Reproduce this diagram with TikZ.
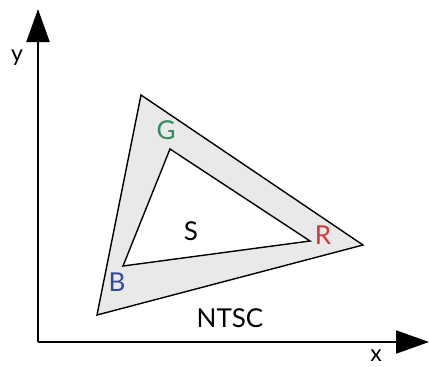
\documentclass[tikz,border=0pt]{standalone}
\usepackage{fontspec}
\setmainfont{Lato}
\usetikzlibrary{arrows.meta}
\definecolor{gfill}{RGB}{233,233,233}
\definecolor{gcol}{RGB}{46,140,90}
\definecolor{rcol}{RGB}{214,52,56}
\definecolor{bcol}{RGB}{52,72,160}
\tikzset{
  axis/.style={line width=2pt,-{Triangle[length=33pt,width=23pt]}},
  tri/.style={line width=1.4pt,line join=miter},
  lbl/.style={inner sep=0pt,font=\fontsize{26}{30}\selectfont},
  axlbl/.style={inner sep=0pt,font=\fontsize{23}{27}\selectfont}
}
\begin{document}
\begin{tikzpicture}[x=1pt,y=-1pt]
\useasboundingbox (0,0) rectangle (429,367);
\coordinate (O) at (38,342);
\coordinate (Y) at (38,9);
\coordinate (X) at (429,342);
\coordinate (o1) at (141,95);
\coordinate (o2) at (363,245);
\coordinate (o3) at (97,315);
\coordinate (i1) at (170,149);
\coordinate (i2) at (310,241);
\coordinate (i3) at (123,266);
\fill[gfill,even odd rule] (o1) -- (o2) -- (o3) -- cycle (i1) -- (i2) -- (i3) -- cycle;
\draw[tri] (o1) -- (o2) -- (o3) -- cycle;
\draw[tri] (i1) -- (i2) -- (i3) -- cycle;
\draw[axis] (O) -- (Y);
\draw[axis] (O) -- (X);
\node[axlbl] (ylbl) at (17,58) {y};
\node[axlbl] (xlbl) at (376,356) {x};
\node[lbl,text=gcol] (G) at (166,130) {G};
\node[lbl,text=rcol] (R) at (323,235) {R};
\node[lbl,text=bcol] (B) at (117,282) {B};
\node[lbl] (S) at (191,231) {S};
\node[lbl] (N) at (230,318) {NTSC};
\end{tikzpicture}
\end{document}
